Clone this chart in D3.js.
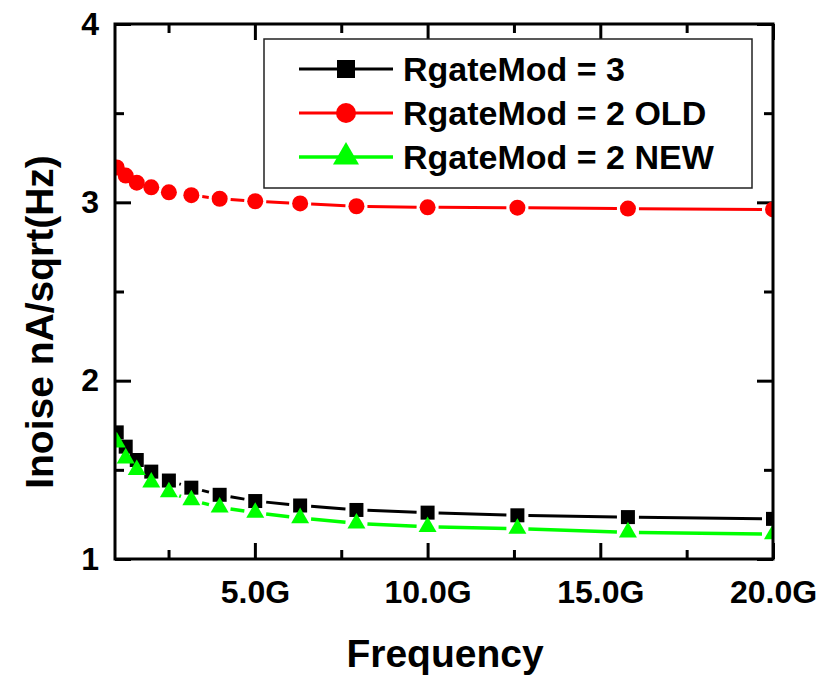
<!DOCTYPE html>
<html>
<head>
<meta charset="utf-8">
<script src="https://cdn.jsdelivr.net/npm/d3@7"></script>
<style>
  body { margin: 0; background: #fff; }
  svg { font-family: "Liberation Sans", Arial, sans-serif; font-weight: bold; }
</style>
</head>
<body>
<svg id="chart" width="836" height="676"></svg>
<script>
// Frequency points (GHz), log spaced 10 per decade
var freq = [1.0, 1.26, 1.58, 2.0, 2.51, 3.16, 3.98, 5.01, 6.31, 7.94, 10.0, 12.6, 15.8, 20.0];

// Noise current, nA/sqrt(Hz)
var rgate3 = [1.71, 1.63, 1.555, 1.49, 1.44, 1.40, 1.36, 1.325, 1.30, 1.275, 1.26, 1.245, 1.235, 1.225];
var rgate2Old = [3.196, 3.15, 3.11, 3.084, 3.056, 3.04, 3.02, 3.006, 2.994, 2.978, 2.972, 2.97, 2.965, 2.96];
var rgate2New = [1.655, 1.565, 1.50, 1.43, 1.375, 1.33, 1.29, 1.26, 1.23, 1.20, 1.18, 1.17, 1.15, 1.14];

var seriesNames = ["RgateMod = 3", "RgateMod = 2 OLD", "RgateMod = 2 NEW"];
var xTicks = [5, 10, 15, 20];
var xMinor = [2.5, 7.5, 12.5, 17.5];
var yTicks = [1, 2, 3, 4];
var yMinor = [1.5, 2.5, 3.5];

var series = [
    {name: seriesNames[0], values: rgate3, color: "#000000", symbol: d3.symbolSquare, size: 196, lsize: 324, width: 3},
    {name: seriesNames[1], values: rgate2Old, color: "#ff0000", symbol: d3.symbolCircle, size: 201, lsize: 314, width: 3},
    {name: seriesNames[2], values: rgate2New, color: "#00ff00", symbol: d3.symbolTriangle, size: 140, lsize: 293, width: 3.5}
];

var svg = d3.select("#chart");
var margin = {left: 115, top: 24, right: 773, bottom: 559};

var x = d3.scaleLinear().domain([0.95, 20]).range([margin.left, margin.right]);
var y = d3.scaleLinear().domain([1, 4]).range([margin.bottom, margin.top]);

svg.append("defs").append("clipPath").attr("id", "plotclip")
    .append("rect")
    .attr("x", margin.left).attr("y", margin.top)
    .attr("width", margin.right - margin.left).attr("height", margin.bottom - margin.top);

// Axes (ticks pointing inward on all four sides)
function styleAxis(g) {
    g.select(".domain").remove();
    g.selectAll(".tick line").attr("stroke", "#000").attr("stroke-width", 3);
    g.selectAll(".tick text").attr("fill", "#000").style("font-size", "32px").style("font-weight", "bold");
}

svg.append("g").attr("transform", "translate(0," + margin.bottom + ")")
    .call(d3.axisBottom(x).tickValues(xTicks).tickSize(-16).tickPadding(21).tickFormat(function (d) { return d.toFixed(1) + "G"; }))
    .call(styleAxis);
svg.append("g").attr("transform", "translate(0," + margin.bottom + ")")
    .call(d3.axisBottom(x).tickValues(xMinor).tickSize(-9).tickFormat(""))
    .call(styleAxis);
svg.append("g").attr("transform", "translate(0," + margin.top + ")")
    .call(d3.axisTop(x).tickValues(xTicks).tickSize(-16).tickFormat(""))
    .call(styleAxis);
svg.append("g").attr("transform", "translate(0," + margin.top + ")")
    .call(d3.axisTop(x).tickValues(xMinor).tickSize(-9).tickFormat(""))
    .call(styleAxis);

svg.append("g").attr("transform", "translate(" + margin.left + ",0)")
    .call(d3.axisLeft(y).tickValues(yTicks).tickSize(-16).tickPadding(16).tickFormat(d3.format("d")))
    .call(styleAxis);
svg.append("g").attr("transform", "translate(" + margin.left + ",0)")
    .call(d3.axisLeft(y).tickValues(yMinor).tickSize(-9).tickFormat(""))
    .call(styleAxis);
svg.append("g").attr("transform", "translate(" + margin.right + ",0)")
    .call(d3.axisRight(y).tickValues(yTicks).tickSize(-16).tickFormat(""))
    .call(styleAxis);
svg.append("g").attr("transform", "translate(" + margin.right + ",0)")
    .call(d3.axisRight(y).tickValues(yMinor).tickSize(-9).tickFormat(""))
    .call(styleAxis);

// Data: line segments with a gap before each symbol, then symbols
var plot = svg.append("g").attr("clip-path", "url(#plotclip)");
var gap = 11;

series.forEach(function (s) {
    var pts = freq.map(function (f, i) { return [x(f), y(s.values[i])]; });
    var segs = [];
    for (var i = 0; i < pts.length - 1; i++) {
        var dx = pts[i + 1][0] - pts[i][0], dy = pts[i + 1][1] - pts[i][1];
        var len = Math.sqrt(dx * dx + dy * dy);
        if (len <= 2 * gap + 1) continue;
        var ux = dx / len, uy = dy / len;
        segs.push([pts[i][0] + ux * gap, pts[i][1] + uy * gap, pts[i + 1][0] - ux * gap, pts[i + 1][1] - uy * gap]);
    }
    plot.append("g").selectAll("line")
        .data(segs)
        .enter().append("line")
        .attr("x1", function (d) { return d[0]; })
        .attr("y1", function (d) { return d[1]; })
        .attr("x2", function (d) { return d[2]; })
        .attr("y2", function (d) { return d[3]; })
        .attr("stroke", s.color)
        .attr("stroke-width", s.width);
});

series.forEach(function (s) {
    plot.append("g").selectAll("path")
        .data(freq)
        .enter().append("path")
        .attr("d", d3.symbol().type(s.symbol).size(s.size))
        .attr("transform", function (d, i) { return "translate(" + x(d) + "," + y(s.values[i]) + ")"; })
        .attr("fill", s.color);
});

// Frame
svg.append("rect")
    .attr("x", margin.left).attr("y", margin.top)
    .attr("width", margin.right - margin.left).attr("height", margin.bottom - margin.top)
    .attr("fill", "none").attr("stroke", "#000").attr("stroke-width", 3);

// Legend
var legend = svg.append("g");
legend.append("rect")
    .attr("x", 264).attr("y", 39).attr("width", 488).attr("height", 149)
    .attr("fill", "#fff").attr("stroke", "#222").attr("stroke-width", 1.5);

series.forEach(function (s, i) {
    var ly = 69 + i * 44;
    legend.append("line")
        .attr("x1", 299).attr("x2", 393).attr("y1", ly).attr("y2", ly)
        .attr("stroke", s.color).attr("stroke-width", s.width);
    legend.append("path")
        .attr("d", d3.symbol().type(s.symbol).size(s.lsize))
        .attr("transform", "translate(346," + ly + ")")
        .attr("fill", s.color);
    legend.append("text")
        .attr("x", 403).attr("y", ly + 12)
        .style("font-size", "34px")
        .text(s.name);
});

// Axis titles
svg.append("text")
    .attr("x", 445).attr("y", 667)
    .attr("text-anchor", "middle")
    .style("font-size", "39px")
    .text("Frequency");

svg.append("text")
    .attr("transform", "translate(53,322) rotate(-90)")
    .attr("text-anchor", "middle")
    .style("font-size", "39px")
    .text("Inoise nA/sqrt(Hz)");
</script>
</body>
</html>
